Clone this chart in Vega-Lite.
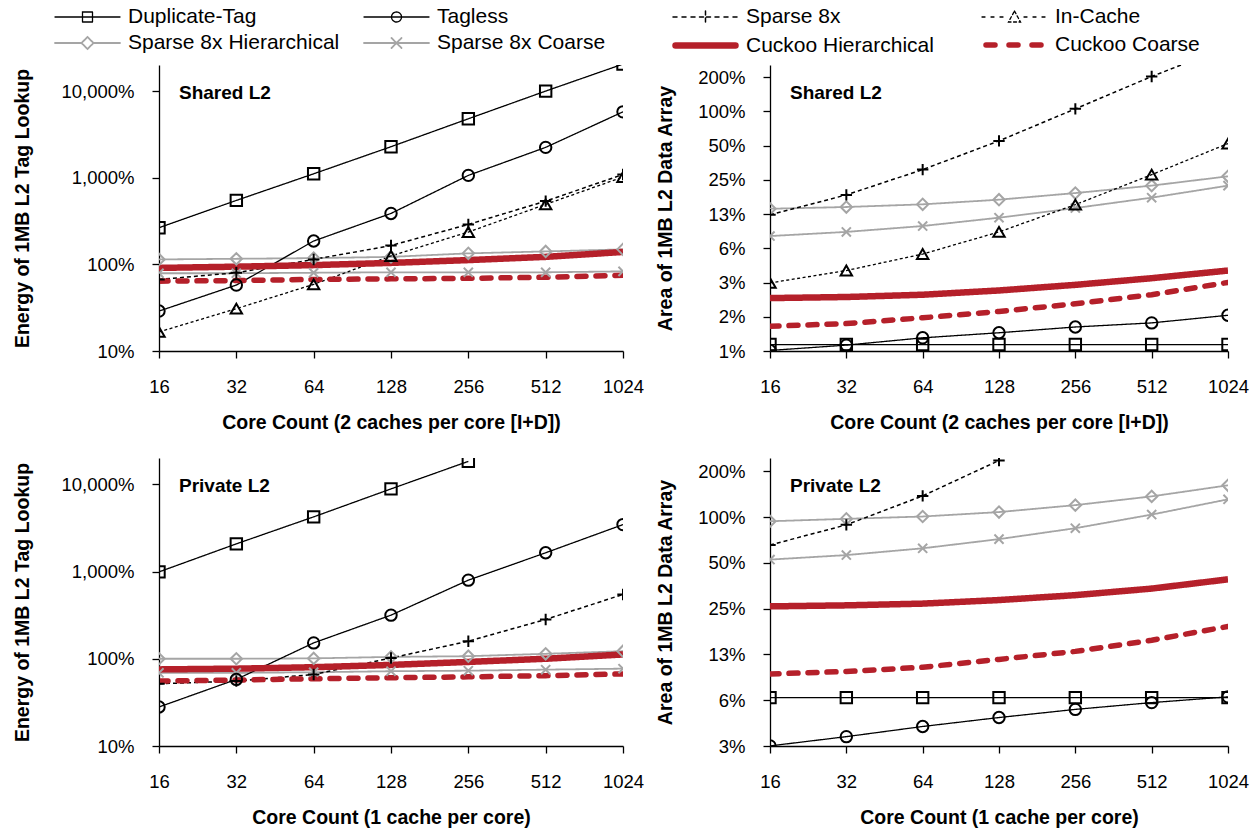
{
  "$schema": "https://vega.github.io/schema/vega-lite/v6.json",
  "background": "white",
  "padding": {"left": 12, "top": 3, "right": 5, "bottom": 5},
  "autosize": {"type": "pad"},
  "datasets": {
    "d": [
      {"panel":"TL","series":"Sparse 8x Hierarchical","cores":16,"value":1.14},
      {"panel":"TL","series":"Sparse 8x Hierarchical","cores":32,"value":1.16},
      {"panel":"TL","series":"Sparse 8x Hierarchical","cores":64,"value":1.18},
      {"panel":"TL","series":"Sparse 8x Hierarchical","cores":128,"value":1.22},
      {"panel":"TL","series":"Sparse 8x Hierarchical","cores":256,"value":1.34},
      {"panel":"TL","series":"Sparse 8x Hierarchical","cores":512,"value":1.41},
      {"panel":"TL","series":"Sparse 8x Hierarchical","cores":1024,"value":1.49},
      {"panel":"TL","series":"Sparse 8x Coarse","cores":16,"value":0.79},
      {"panel":"TL","series":"Sparse 8x Coarse","cores":32,"value":0.79},
      {"panel":"TL","series":"Sparse 8x Coarse","cores":64,"value":0.80},
      {"panel":"TL","series":"Sparse 8x Coarse","cores":128,"value":0.81},
      {"panel":"TL","series":"Sparse 8x Coarse","cores":256,"value":0.81},
      {"panel":"TL","series":"Sparse 8x Coarse","cores":512,"value":0.81},
      {"panel":"TL","series":"Sparse 8x Coarse","cores":1024,"value":0.83},
      {"panel":"TL","series":"Duplicate-Tag","cores":16,"value":2.65},
      {"panel":"TL","series":"Duplicate-Tag","cores":32,"value":5.47},
      {"panel":"TL","series":"Duplicate-Tag","cores":64,"value":11.1},
      {"panel":"TL","series":"Duplicate-Tag","cores":128,"value":22.8},
      {"panel":"TL","series":"Duplicate-Tag","cores":256,"value":47.9},
      {"panel":"TL","series":"Duplicate-Tag","cores":512,"value":100},
      {"panel":"TL","series":"Duplicate-Tag","cores":1024,"value":205},
      {"panel":"TL","series":"Tagless","cores":16,"value":0.289},
      {"panel":"TL","series":"Tagless","cores":32,"value":0.577},
      {"panel":"TL","series":"Tagless","cores":64,"value":1.86},
      {"panel":"TL","series":"Tagless","cores":128,"value":3.87},
      {"panel":"TL","series":"Tagless","cores":256,"value":10.64},
      {"panel":"TL","series":"Tagless","cores":512,"value":22.4},
      {"panel":"TL","series":"Tagless","cores":1024,"value":57.6},
      {"panel":"TL","series":"Sparse 8x","cores":16,"value":0.67},
      {"panel":"TL","series":"Sparse 8x","cores":32,"value":0.80},
      {"panel":"TL","series":"Sparse 8x","cores":64,"value":1.14},
      {"panel":"TL","series":"Sparse 8x","cores":128,"value":1.65},
      {"panel":"TL","series":"Sparse 8x","cores":256,"value":2.89},
      {"panel":"TL","series":"Sparse 8x","cores":512,"value":5.37},
      {"panel":"TL","series":"Sparse 8x","cores":1024,"value":10.9},
      {"panel":"TL","series":"In-Cache","cores":16,"value":0.166},
      {"panel":"TL","series":"In-Cache","cores":32,"value":0.308},
      {"panel":"TL","series":"In-Cache","cores":64,"value":0.588},
      {"panel":"TL","series":"In-Cache","cores":128,"value":1.25},
      {"panel":"TL","series":"In-Cache","cores":256,"value":2.36},
      {"panel":"TL","series":"In-Cache","cores":512,"value":4.92},
      {"panel":"TL","series":"In-Cache","cores":1024,"value":10.2},
      {"panel":"TL","series":"Cuckoo Hierarchical","cores":16,"value":0.91},
      {"panel":"TL","series":"Cuckoo Hierarchical","cores":32,"value":0.94},
      {"panel":"TL","series":"Cuckoo Hierarchical","cores":64,"value":0.98},
      {"panel":"TL","series":"Cuckoo Hierarchical","cores":128,"value":1.04},
      {"panel":"TL","series":"Cuckoo Hierarchical","cores":256,"value":1.12},
      {"panel":"TL","series":"Cuckoo Hierarchical","cores":512,"value":1.22},
      {"panel":"TL","series":"Cuckoo Hierarchical","cores":1024,"value":1.39},
      {"panel":"TL","series":"Cuckoo Coarse","cores":16,"value":0.64},
      {"panel":"TL","series":"Cuckoo Coarse","cores":32,"value":0.65},
      {"panel":"TL","series":"Cuckoo Coarse","cores":64,"value":0.67},
      {"panel":"TL","series":"Cuckoo Coarse","cores":128,"value":0.68},
      {"panel":"TL","series":"Cuckoo Coarse","cores":256,"value":0.69},
      {"panel":"TL","series":"Cuckoo Coarse","cores":512,"value":0.71},
      {"panel":"TL","series":"Cuckoo Coarse","cores":1024,"value":0.75},

      {"panel":"TR","series":"Sparse 8x Hierarchical","cores":16,"value":0.139},
      {"panel":"TR","series":"Sparse 8x Hierarchical","cores":32,"value":0.144},
      {"panel":"TR","series":"Sparse 8x Hierarchical","cores":64,"value":0.152},
      {"panel":"TR","series":"Sparse 8x Hierarchical","cores":128,"value":0.167},
      {"panel":"TR","series":"Sparse 8x Hierarchical","cores":256,"value":0.191},
      {"panel":"TR","series":"Sparse 8x Hierarchical","cores":512,"value":0.222},
      {"panel":"TR","series":"Sparse 8x Hierarchical","cores":1024,"value":0.268},
      {"panel":"TR","series":"Sparse 8x Coarse","cores":16,"value":0.080},
      {"panel":"TR","series":"Sparse 8x Coarse","cores":32,"value":0.087},
      {"panel":"TR","series":"Sparse 8x Coarse","cores":64,"value":0.098},
      {"panel":"TR","series":"Sparse 8x Coarse","cores":128,"value":0.116},
      {"panel":"TR","series":"Sparse 8x Coarse","cores":256,"value":0.141},
      {"panel":"TR","series":"Sparse 8x Coarse","cores":512,"value":0.174},
      {"panel":"TR","series":"Sparse 8x Coarse","cores":1024,"value":0.222},
      {"panel":"TR","series":"Duplicate-Tag","cores":16,"value":0.0089},
      {"panel":"TR","series":"Duplicate-Tag","cores":32,"value":0.0089},
      {"panel":"TR","series":"Duplicate-Tag","cores":64,"value":0.0089},
      {"panel":"TR","series":"Duplicate-Tag","cores":128,"value":0.0089},
      {"panel":"TR","series":"Duplicate-Tag","cores":256,"value":0.0089},
      {"panel":"TR","series":"Duplicate-Tag","cores":512,"value":0.0089},
      {"panel":"TR","series":"Duplicate-Tag","cores":1024,"value":0.0089},
      {"panel":"TR","series":"Tagless","cores":16,"value":0.0079},
      {"panel":"TR","series":"Tagless","cores":32,"value":0.0088},
      {"panel":"TR","series":"Tagless","cores":64,"value":0.0102},
      {"panel":"TR","series":"Tagless","cores":128,"value":0.0113},
      {"panel":"TR","series":"Tagless","cores":256,"value":0.0127},
      {"panel":"TR","series":"Tagless","cores":512,"value":0.0138},
      {"panel":"TR","series":"Tagless","cores":1024,"value":0.0161},
      {"panel":"TR","series":"Sparse 8x","cores":16,"value":0.123},
      {"panel":"TR","series":"Sparse 8x","cores":32,"value":0.184},
      {"panel":"TR","series":"Sparse 8x","cores":64,"value":0.307},
      {"panel":"TR","series":"Sparse 8x","cores":128,"value":0.549},
      {"panel":"TR","series":"Sparse 8x","cores":256,"value":1.05},
      {"panel":"TR","series":"Sparse 8x","cores":512,"value":2.02},
      {"panel":"TR","series":"Sparse 8x","cores":1024,"value":3.7},
      {"panel":"TR","series":"In-Cache","cores":16,"value":0.031},
      {"panel":"TR","series":"In-Cache","cores":32,"value":0.0398},
      {"panel":"TR","series":"In-Cache","cores":64,"value":0.0556},
      {"panel":"TR","series":"In-Cache","cores":128,"value":0.087},
      {"panel":"TR","series":"In-Cache","cores":256,"value":0.151},
      {"panel":"TR","series":"In-Cache","cores":512,"value":0.277},
      {"panel":"TR","series":"In-Cache","cores":1024,"value":0.52},
      {"panel":"TR","series":"Cuckoo Hierarchical","cores":16,"value":0.0228},
      {"panel":"TR","series":"Cuckoo Hierarchical","cores":32,"value":0.0233},
      {"panel":"TR","series":"Cuckoo Hierarchical","cores":64,"value":0.0244},
      {"panel":"TR","series":"Cuckoo Hierarchical","cores":128,"value":0.0266},
      {"panel":"TR","series":"Cuckoo Hierarchical","cores":256,"value":0.0298},
      {"panel":"TR","series":"Cuckoo Hierarchical","cores":512,"value":0.0341},
      {"panel":"TR","series":"Cuckoo Hierarchical","cores":1024,"value":0.0398},
      {"panel":"TR","series":"Cuckoo Coarse","cores":16,"value":0.0129},
      {"panel":"TR","series":"Cuckoo Coarse","cores":32,"value":0.0136},
      {"panel":"TR","series":"Cuckoo Coarse","cores":64,"value":0.0153},
      {"panel":"TR","series":"Cuckoo Coarse","cores":128,"value":0.0174},
      {"panel":"TR","series":"Cuckoo Coarse","cores":256,"value":0.0203},
      {"panel":"TR","series":"Cuckoo Coarse","cores":512,"value":0.0244},
      {"panel":"TR","series":"Cuckoo Coarse","cores":1024,"value":0.0313},

      {"panel":"BL","series":"Sparse 8x Hierarchical","cores":16,"value":1.0},
      {"panel":"BL","series":"Sparse 8x Hierarchical","cores":32,"value":1.0},
      {"panel":"BL","series":"Sparse 8x Hierarchical","cores":64,"value":1.01},
      {"panel":"BL","series":"Sparse 8x Hierarchical","cores":128,"value":1.05},
      {"panel":"BL","series":"Sparse 8x Hierarchical","cores":256,"value":1.07},
      {"panel":"BL","series":"Sparse 8x Hierarchical","cores":512,"value":1.14},
      {"panel":"BL","series":"Sparse 8x Hierarchical","cores":1024,"value":1.22},
      {"panel":"BL","series":"Sparse 8x Coarse","cores":16,"value":0.69},
      {"panel":"BL","series":"Sparse 8x Coarse","cores":32,"value":0.69},
      {"panel":"BL","series":"Sparse 8x Coarse","cores":64,"value":0.70},
      {"panel":"BL","series":"Sparse 8x Coarse","cores":128,"value":0.72},
      {"panel":"BL","series":"Sparse 8x Coarse","cores":256,"value":0.73},
      {"panel":"BL","series":"Sparse 8x Coarse","cores":512,"value":0.75},
      {"panel":"BL","series":"Sparse 8x Coarse","cores":1024,"value":0.77},
      {"panel":"BL","series":"Duplicate-Tag","cores":16,"value":9.9},
      {"panel":"BL","series":"Duplicate-Tag","cores":32,"value":20.75},
      {"panel":"BL","series":"Duplicate-Tag","cores":64,"value":42.3},
      {"panel":"BL","series":"Duplicate-Tag","cores":128,"value":88.5},
      {"panel":"BL","series":"Duplicate-Tag","cores":256,"value":183},
      {"panel":"BL","series":"Tagless","cores":16,"value":0.28},
      {"panel":"BL","series":"Tagless","cores":32,"value":0.58},
      {"panel":"BL","series":"Tagless","cores":64,"value":1.52},
      {"panel":"BL","series":"Tagless","cores":128,"value":3.16},
      {"panel":"BL","series":"Tagless","cores":256,"value":7.96},
      {"panel":"BL","series":"Tagless","cores":512,"value":16.4},
      {"panel":"BL","series":"Tagless","cores":1024,"value":34.5},
      {"panel":"BL","series":"Sparse 8x","cores":16,"value":0.517},
      {"panel":"BL","series":"Sparse 8x","cores":32,"value":0.555},
      {"panel":"BL","series":"Sparse 8x","cores":64,"value":0.66},
      {"panel":"BL","series":"Sparse 8x","cores":128,"value":1.02},
      {"panel":"BL","series":"Sparse 8x","cores":256,"value":1.59},
      {"panel":"BL","series":"Sparse 8x","cores":512,"value":2.82},
      {"panel":"BL","series":"Sparse 8x","cores":1024,"value":5.46},
      {"panel":"BL","series":"Cuckoo Hierarchical","cores":16,"value":0.755},
      {"panel":"BL","series":"Cuckoo Hierarchical","cores":32,"value":0.77},
      {"panel":"BL","series":"Cuckoo Hierarchical","cores":64,"value":0.80},
      {"panel":"BL","series":"Cuckoo Hierarchical","cores":128,"value":0.85},
      {"panel":"BL","series":"Cuckoo Hierarchical","cores":256,"value":0.92},
      {"panel":"BL","series":"Cuckoo Hierarchical","cores":512,"value":1.0},
      {"panel":"BL","series":"Cuckoo Hierarchical","cores":1024,"value":1.12},
      {"panel":"BL","series":"Cuckoo Coarse","cores":16,"value":0.555},
      {"panel":"BL","series":"Cuckoo Coarse","cores":32,"value":0.57},
      {"panel":"BL","series":"Cuckoo Coarse","cores":64,"value":0.59},
      {"panel":"BL","series":"Cuckoo Coarse","cores":128,"value":0.606},
      {"panel":"BL","series":"Cuckoo Coarse","cores":256,"value":0.62},
      {"panel":"BL","series":"Cuckoo Coarse","cores":512,"value":0.64},
      {"panel":"BL","series":"Cuckoo Coarse","cores":1024,"value":0.67},

      {"panel":"BR","series":"Sparse 8x Hierarchical","cores":16,"value":0.94},
      {"panel":"BR","series":"Sparse 8x Hierarchical","cores":32,"value":0.975},
      {"panel":"BR","series":"Sparse 8x Hierarchical","cores":64,"value":1.01},
      {"panel":"BR","series":"Sparse 8x Hierarchical","cores":128,"value":1.08},
      {"panel":"BR","series":"Sparse 8x Hierarchical","cores":256,"value":1.20},
      {"panel":"BR","series":"Sparse 8x Hierarchical","cores":512,"value":1.37},
      {"panel":"BR","series":"Sparse 8x Hierarchical","cores":1024,"value":1.62},
      {"panel":"BR","series":"Sparse 8x Coarse","cores":16,"value":0.526},
      {"panel":"BR","series":"Sparse 8x Coarse","cores":32,"value":0.563},
      {"panel":"BR","series":"Sparse 8x Coarse","cores":64,"value":0.624},
      {"panel":"BR","series":"Sparse 8x Coarse","cores":128,"value":0.717},
      {"panel":"BR","series":"Sparse 8x Coarse","cores":256,"value":0.846},
      {"panel":"BR","series":"Sparse 8x Coarse","cores":512,"value":1.04},
      {"panel":"BR","series":"Sparse 8x Coarse","cores":1024,"value":1.31},
      {"panel":"BR","series":"Duplicate-Tag","cores":16,"value":0.065},
      {"panel":"BR","series":"Duplicate-Tag","cores":32,"value":0.065},
      {"panel":"BR","series":"Duplicate-Tag","cores":64,"value":0.065},
      {"panel":"BR","series":"Duplicate-Tag","cores":128,"value":0.065},
      {"panel":"BR","series":"Duplicate-Tag","cores":256,"value":0.065},
      {"panel":"BR","series":"Duplicate-Tag","cores":512,"value":0.065},
      {"panel":"BR","series":"Duplicate-Tag","cores":1024,"value":0.065},
      {"panel":"BR","series":"Tagless","cores":16,"value":0.0313},
      {"panel":"BR","series":"Tagless","cores":32,"value":0.036},
      {"panel":"BR","series":"Tagless","cores":64,"value":0.042},
      {"panel":"BR","series":"Tagless","cores":128,"value":0.0481},
      {"panel":"BR","series":"Tagless","cores":256,"value":0.0544},
      {"panel":"BR","series":"Tagless","cores":512,"value":0.0603},
      {"panel":"BR","series":"Tagless","cores":1024,"value":0.0658},
      {"panel":"BR","series":"Sparse 8x","cores":16,"value":0.656},
      {"panel":"BR","series":"Sparse 8x","cores":32,"value":0.89},
      {"panel":"BR","series":"Sparse 8x","cores":64,"value":1.38},
      {"panel":"BR","series":"Sparse 8x","cores":128,"value":2.36},
      {"panel":"BR","series":"Cuckoo Hierarchical","cores":16,"value":0.259},
      {"panel":"BR","series":"Cuckoo Hierarchical","cores":32,"value":0.263},
      {"panel":"BR","series":"Cuckoo Hierarchical","cores":64,"value":0.27},
      {"panel":"BR","series":"Cuckoo Hierarchical","cores":128,"value":0.285},
      {"panel":"BR","series":"Cuckoo Hierarchical","cores":256,"value":0.307},
      {"panel":"BR","series":"Cuckoo Hierarchical","cores":512,"value":0.339},
      {"panel":"BR","series":"Cuckoo Hierarchical","cores":1024,"value":0.39},
      {"panel":"BR","series":"Cuckoo Coarse","cores":16,"value":0.093},
      {"panel":"BR","series":"Cuckoo Coarse","cores":32,"value":0.0966},
      {"panel":"BR","series":"Cuckoo Coarse","cores":64,"value":0.103},
      {"panel":"BR","series":"Cuckoo Coarse","cores":128,"value":0.116},
      {"panel":"BR","series":"Cuckoo Coarse","cores":256,"value":0.131},
      {"panel":"BR","series":"Cuckoo Coarse","cores":512,"value":0.155},
      {"panel":"BR","series":"Cuckoo Coarse","cores":1024,"value":0.191}
    ]
  },
  "config": {
    "view": {"stroke": null},
    "font": "Liberation Sans",
    "axis": {
      "grid": false,
      "domainColor": "#000000",
      "domainWidth": 1.3,
      "tickColor": "#000000",
      "tickWidth": 1.3,
      "tickSize": 7,
      "labelColor": "#000000",
      "labelFont": "Liberation Sans",
      "labelFontSize": 18.5,
      "labelOverlap": false,
      "titleColor": "#000000",
      "titleFont": "Liberation Sans",
      "titleFontSize": 19.5,
      "titleFontWeight": "bold"
    },
    "axisX": {"labelPadding": 19, "titlePadding": 18, "labelFlush": false},
    "axisY": {"labelPadding": 18},
    "title": {
      "font": "Liberation Sans",
      "fontSize": 19,
      "fontWeight": "bold",
      "color": "#000000",
      "anchor": "start",
      "frame": "group",
      "orient": "top",
      "offset": 0,
      "dx": 20,
      "dy": 42,
      "baseline": "middle"
    }
  },
  "columns": 2,
  "spacing": {"row": 107, "column": 147},
  "bounds": "flush",
  "concat": [
    {
      "width": 464,
      "height": 286,
      "title": "Shared L2",
      "data": {"name": "d"},
      "transform": [{"filter": "datum.panel === 'TL'"}],
      "encoding": {
        "x": {"field": "cores", "type": "quantitative", "scale": {"type": "log", "base": 2, "domain": [16, 1024], "nice": false}, "axis": {"values": [16, 32, 64, 128, 256, 512, 1024], "format": "d", "title": "Core Count (2 caches per core [I+D])"}},
        "y": {"field": "value", "type": "quantitative", "scale": {"type": "log", "domain": [0.1, 200], "nice": false}, "axis": {"values": [0.1, 1, 10, 100], "format": ",.0%", "title": "Energy of 1MB L2 Tag Lookup", "titlePadding": 28}}
      },
      "layer": [
        {
          "transform": [{"filter": "datum.series !== 'Cuckoo Coarse'"}],
          "mark": {"type": "line", "clip": true},
          "encoding": {
            "color": {"field": "series", "type": "nominal",
              "scale": {"domain": ["Duplicate-Tag", "Tagless", "Sparse 8x", "In-Cache", "Sparse 8x Hierarchical", "Sparse 8x Coarse", "Cuckoo Hierarchical", "Cuckoo Coarse"], "range": ["#000000", "#000000", "#000000", "#000000", "#A5A5A5", "#A5A5A5", "#B5202A", "#B5202A"]},
              "legend": {
                "orient": "none", "legendX": -117, "legendY": -62,
                "direction": "horizontal",
                "columns": 4, "title": null, "padding": 0,
                "gridAlign": "all", "columnPadding": 11, "rowPadding": 2,
                "symbolSize": 400, "symbolOffset": 32, "labelOffset": 27,
                "labelFont": "Liberation Sans", "labelFontSize": 21, "labelColor": "#000000", "labelLimit": 400,
                "encode": {"symbols": {"update": {
                  "shape": {"signal": "datum.value === 'Duplicate-Tag' ? 'M-3.25,0H3.25M-0.5,-0.5H0.5V0.5H-0.5Z' : datum.value === 'Tagless' ? 'M-3.25,0H3.25M0.5,0A0.5,0.5,0,1,1,-0.5,0A0.5,0.5,0,1,1,0.5,0' : datum.value === 'Sparse 8x' ? 'M-3.25,0H-2.75M-2.35,0H-1.85M-1.45,0H-0.95M-0.6,0H0.6M0,-0.6V0.6M0.95,0H1.45M1.85,0H2.35M2.75,0H3.25' : datum.value === 'In-Cache' ? 'M-3.25,0H-2.75M-2.35,0H-1.85M-1.45,0H-0.95M0,-0.6L0.6,0.5H-0.6ZM0.95,0H1.45M1.85,0H2.35M2.75,0H3.25' : datum.value === 'Sparse 8x Hierarchical' ? 'M-3.25,0H-0.6M0.6,0H3.25M0,-0.6L0.6,0L0,0.6L-0.6,0Z' : datum.value === 'Sparse 8x Coarse' ? 'M-3.25,0H3.25M-0.5,-0.5L0.5,0.5M-0.5,0.5L0.5,-0.5' : datum.value === 'Cuckoo Hierarchical' ? 'M-3,0H3' : 'M-2.85,0H-1.75M-0.55,0H0.55M1.75,0H2.85'"},
                  "strokeWidth": {"signal": "datum.value === 'Cuckoo Hierarchical' || datum.value === 'Cuckoo Coarse' ? 7 : 1.8"},
                  "strokeDash": {"value": []},
                  "strokeCap": {"value": "round"},
                  "fill": {"value": "transparent"},
                  "opacity": {"value": 1}
                }}}
              }
            },
            "strokeDash": {"field": "series", "type": "nominal", "legend": null,
              "scale": {"domain": ["Duplicate-Tag", "Tagless", "Sparse 8x", "In-Cache", "Sparse 8x Hierarchical", "Sparse 8x Coarse", "Cuckoo Hierarchical", "Cuckoo Coarse"], "range": [[1, 0], [1, 0], [4, 3], [3, 2.5], [1, 0], [1, 0], [1, 0], [9, 10]]}},
            "strokeWidth": {"field": "series", "type": "nominal", "legend": null,
              "scale": {"type": "ordinal", "domain": ["Duplicate-Tag", "Tagless", "Sparse 8x", "In-Cache", "Sparse 8x Hierarchical", "Sparse 8x Coarse", "Cuckoo Hierarchical", "Cuckoo Coarse"], "range": [1.3, 1.3, 1.5, 1.3, 1.8, 1.8, 6.5, 5.5]}}
          }
        },
        {
          "transform": [{"filter": "datum.series === 'Cuckoo Coarse'"}],
          "mark": {"type": "line", "clip": true, "strokeCap": "round"},
          "encoding": {
            "color": {"field": "series", "type": "nominal", "legend": null},
            "strokeDash": {"field": "series", "type": "nominal", "legend": null},
            "strokeWidth": {"field": "series", "type": "nominal", "legend": null, "scale": {"type": "ordinal", "domain": ["Duplicate-Tag", "Tagless", "Sparse 8x", "In-Cache", "Sparse 8x Hierarchical", "Sparse 8x Coarse", "Cuckoo Hierarchical", "Cuckoo Coarse"], "range": [1.3, 1.3, 1.5, 1.3, 1.8, 1.8, 6.5, 5.5]}}
          }
        },
        {
          "transform": [{"filter": "datum.series !== 'Cuckoo Hierarchical' && datum.series !== 'Cuckoo Coarse'"}],
          "mark": {"type": "point", "filled": false, "clip": true, "strokeWidth": 2, "size": 130, "opacity": 1},
          "encoding": {
            "color": {"field": "series", "type": "nominal", "legend": null},
            "shape": {"field": "series", "type": "nominal", "legend": null,
              "scale": {"domain": ["Duplicate-Tag", "Tagless", "Sparse 8x", "In-Cache", "Sparse 8x Hierarchical", "Sparse 8x Coarse"], "range": ["square", "circle", "M-1,0H1M0,-1V1", "triangle-up", "diamond", "M-0.8,-0.8L0.8,0.8M-0.8,0.8L0.8,-0.8"]}}
          }
        }
      ]
    },
    {
      "width": 458,
      "height": 286,
      "title": "Shared L2",
      "data": {"name": "d"},
      "transform": [{"filter": "datum.panel === 'TR'"}],
      "encoding": {
        "x": {"field": "cores", "type": "quantitative", "scale": {"type": "log", "base": 2, "domain": [16, 1024], "nice": false}, "axis": {"values": [16, 32, 64, 128, 256, 512, 1024], "format": "d", "title": "Core Count (2 caches per core [I+D])"}},
        "y": {"field": "value", "type": "quantitative", "scale": {"type": "log", "base": 2, "domain": [0.0078125, 2.55], "nice": false}, "axis": {"values": [0.0078125, 0.015625, 0.03125, 0.0625, 0.125, 0.25, 0.5, 1, 2], "format": ".0%", "title": "Area of 1MB L2 Data Array", "titlePadding": 22}}
      },
      "layer": [
        {
          "transform": [{"filter": "datum.series !== 'Cuckoo Coarse'"}],
          "mark": {"type": "line", "clip": true},
          "encoding": {
            "color": {"field": "series", "type": "nominal", "legend": null},
            "strokeDash": {"field": "series", "type": "nominal", "legend": null},
            "strokeWidth": {"field": "series", "type": "nominal", "legend": null, "scale": {"type": "ordinal", "domain": ["Duplicate-Tag", "Tagless", "Sparse 8x", "In-Cache", "Sparse 8x Hierarchical", "Sparse 8x Coarse", "Cuckoo Hierarchical", "Cuckoo Coarse"], "range": [1.3, 1.3, 1.5, 1.3, 1.8, 1.8, 6.5, 5.5]}}
          }
        },
        {
          "transform": [{"filter": "datum.series === 'Cuckoo Coarse'"}],
          "mark": {"type": "line", "clip": true, "strokeCap": "round"},
          "encoding": {
            "color": {"field": "series", "type": "nominal", "legend": null},
            "strokeDash": {"field": "series", "type": "nominal", "legend": null},
            "strokeWidth": {"field": "series", "type": "nominal", "legend": null, "scale": {"type": "ordinal", "domain": ["Duplicate-Tag", "Tagless", "Sparse 8x", "In-Cache", "Sparse 8x Hierarchical", "Sparse 8x Coarse", "Cuckoo Hierarchical", "Cuckoo Coarse"], "range": [1.3, 1.3, 1.5, 1.3, 1.8, 1.8, 6.5, 5.5]}}
          }
        },
        {
          "transform": [{"filter": "datum.series !== 'Cuckoo Hierarchical' && datum.series !== 'Cuckoo Coarse'"}],
          "mark": {"type": "point", "filled": false, "clip": true, "strokeWidth": 2, "size": 130, "opacity": 1},
          "encoding": {
            "color": {"field": "series", "type": "nominal", "legend": null},
            "shape": {"field": "series", "type": "nominal", "legend": null}
          }
        }
      ]
    },
    {
      "width": 464,
      "height": 288,
      "title": "Private L2",
      "data": {"name": "d"},
      "transform": [{"filter": "datum.panel === 'BL'"}],
      "encoding": {
        "x": {"field": "cores", "type": "quantitative", "scale": {"type": "log", "base": 2, "domain": [16, 1024], "nice": false}, "axis": {"values": [16, 32, 64, 128, 256, 512, 1024], "format": "d", "title": "Core Count (1 cache per core)"}},
        "y": {"field": "value", "type": "quantitative", "scale": {"type": "log", "domain": [0.1, 200], "nice": false}, "axis": {"values": [0.1, 1, 10, 100], "format": ",.0%", "title": "Energy of 1MB L2 Tag Lookup", "titlePadding": 28}}
      },
      "layer": [
        {
          "transform": [{"filter": "datum.series !== 'Cuckoo Coarse'"}],
          "mark": {"type": "line", "clip": true},
          "encoding": {
            "color": {"field": "series", "type": "nominal", "legend": null},
            "strokeDash": {"field": "series", "type": "nominal", "legend": null},
            "strokeWidth": {"field": "series", "type": "nominal", "legend": null, "scale": {"type": "ordinal", "domain": ["Duplicate-Tag", "Tagless", "Sparse 8x", "In-Cache", "Sparse 8x Hierarchical", "Sparse 8x Coarse", "Cuckoo Hierarchical", "Cuckoo Coarse"], "range": [1.3, 1.3, 1.5, 1.3, 1.8, 1.8, 6.5, 5.5]}}
          }
        },
        {
          "transform": [{"filter": "datum.series === 'Cuckoo Coarse'"}],
          "mark": {"type": "line", "clip": true, "strokeCap": "round"},
          "encoding": {
            "color": {"field": "series", "type": "nominal", "legend": null},
            "strokeDash": {"field": "series", "type": "nominal", "legend": null},
            "strokeWidth": {"field": "series", "type": "nominal", "legend": null, "scale": {"type": "ordinal", "domain": ["Duplicate-Tag", "Tagless", "Sparse 8x", "In-Cache", "Sparse 8x Hierarchical", "Sparse 8x Coarse", "Cuckoo Hierarchical", "Cuckoo Coarse"], "range": [1.3, 1.3, 1.5, 1.3, 1.8, 1.8, 6.5, 5.5]}}
          }
        },
        {
          "transform": [{"filter": "datum.series !== 'Cuckoo Hierarchical' && datum.series !== 'Cuckoo Coarse'"}],
          "mark": {"type": "point", "filled": false, "clip": true, "strokeWidth": 2, "size": 130, "opacity": 1},
          "encoding": {
            "color": {"field": "series", "type": "nominal", "legend": null},
            "shape": {"field": "series", "type": "nominal", "legend": null}
          }
        }
      ]
    },
    {
      "width": 458,
      "height": 288,
      "title": "Private L2",
      "data": {"name": "d"},
      "transform": [{"filter": "datum.panel === 'BR'"}],
      "encoding": {
        "x": {"field": "cores", "type": "quantitative", "scale": {"type": "log", "base": 2, "domain": [16, 1024], "nice": false}, "axis": {"values": [16, 32, 64, 128, 256, 512, 1024], "format": "d", "title": "Core Count (1 cache per core)"}},
        "y": {"field": "value", "type": "quantitative", "scale": {"type": "log", "base": 2, "domain": [0.03125, 2.45], "nice": false}, "axis": {"values": [0.03125, 0.0625, 0.125, 0.25, 0.5, 1, 2], "format": ".0%", "title": "Area of 1MB L2 Data Array", "titlePadding": 22}}
      },
      "layer": [
        {
          "transform": [{"filter": "datum.series !== 'Cuckoo Coarse'"}],
          "mark": {"type": "line", "clip": true},
          "encoding": {
            "color": {"field": "series", "type": "nominal", "legend": null},
            "strokeDash": {"field": "series", "type": "nominal", "legend": null},
            "strokeWidth": {"field": "series", "type": "nominal", "legend": null, "scale": {"type": "ordinal", "domain": ["Duplicate-Tag", "Tagless", "Sparse 8x", "In-Cache", "Sparse 8x Hierarchical", "Sparse 8x Coarse", "Cuckoo Hierarchical", "Cuckoo Coarse"], "range": [1.3, 1.3, 1.5, 1.3, 1.8, 1.8, 6.5, 5.5]}}
          }
        },
        {
          "transform": [{"filter": "datum.series === 'Cuckoo Coarse'"}],
          "mark": {"type": "line", "clip": true, "strokeCap": "round"},
          "encoding": {
            "color": {"field": "series", "type": "nominal", "legend": null},
            "strokeDash": {"field": "series", "type": "nominal", "legend": null},
            "strokeWidth": {"field": "series", "type": "nominal", "legend": null, "scale": {"type": "ordinal", "domain": ["Duplicate-Tag", "Tagless", "Sparse 8x", "In-Cache", "Sparse 8x Hierarchical", "Sparse 8x Coarse", "Cuckoo Hierarchical", "Cuckoo Coarse"], "range": [1.3, 1.3, 1.5, 1.3, 1.8, 1.8, 6.5, 5.5]}}
          }
        },
        {
          "transform": [{"filter": "datum.series !== 'Cuckoo Hierarchical' && datum.series !== 'Cuckoo Coarse'"}],
          "mark": {"type": "point", "filled": false, "clip": true, "strokeWidth": 2, "size": 130, "opacity": 1},
          "encoding": {
            "color": {"field": "series", "type": "nominal", "legend": null},
            "shape": {"field": "series", "type": "nominal", "legend": null}
          }
        }
      ]
    }
  ]
}
